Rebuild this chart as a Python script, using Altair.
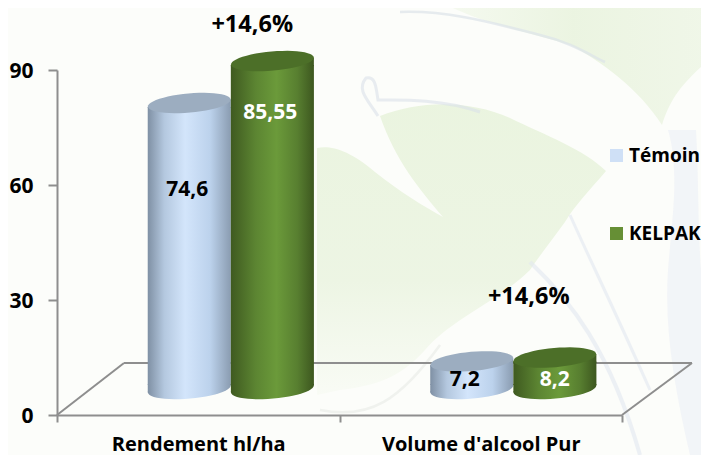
import math
import altair as alt
import pandas as pd

categories = ["Rendement hl/ha", "Volume d'alcool Pur"]
series_names = ["Témoin", "KELPAK"]
temoin_values = [74.6, 7.2]
kelpak_values = [85.55, 8.2]
temoin_labels = ["74,6", "7,2"]
kelpak_labels = ["85,55", "8,2"]
temoin_label_heights = [52.0, 2.4]
kelpak_label_heights = [72.0, 2.4]
temoin_label_dx = [-2, -7]
kelpak_label_dx = [-2, 0]
gain_labels = ["+14,6%", "+14,6%"]
gain_heights = [95.0, 24.0]
gain_dx = [54, 48]
y_ticks = [0, 30, 60, 90]

FONT = "Open Sans"
AXIS = "#8e8e8e"
DEPTH = 26
BAR_W = 83
TILT = math.radians(-5)
RY = 9.6 / (BAR_W / 2)
TIP = math.sin(-TILT)
SEAM = 0.035


def ellipse_pts(n=48):
    pts = []
    for i in range(n):
        a = math.pi + 2 * math.pi * i / n
        ex, ey = math.cos(a), RY * math.sin(a)
        pts.append((ex * math.cos(TILT) - ey * math.sin(TILT),
                    ex * math.sin(TILT) + ey * math.cos(TILT)))
    return pts


def to_path(pts):
    return "M" + "L".join(f"{x:.4f},{y:.4f}" for x, y in pts) + "Z"


ELLIPSE = to_path(ellipse_pts())
TOP_NECK = to_path([(-1, TIP), (1, -TIP), (1, TIP + SEAM), (-1, TIP + SEAM)])
BOTTOM_NECK = to_path([(-1, -TIP - SEAM), (1, -TIP - SEAM), (1, -TIP), (-1, TIP)])
SIZE = BAR_W ** 2

BLUE_BODY = alt.Gradient(gradient="linear", x1=0, x2=1, y1=0, y2=0, stops=[
    alt.GradientStop(color="#7f90a4", offset=0),
    alt.GradientStop(color="#b4c8df", offset=0.2),
    alt.GradientStop(color="#d3e5fb", offset=0.45),
    alt.GradientStop(color="#bcd2ec", offset=0.75),
    alt.GradientStop(color="#8a9cb1", offset=1)])
GREEN_BODY = alt.Gradient(gradient="linear", x1=0, x2=1, y1=0, y2=0, stops=[
    alt.GradientStop(color="#3f5a20", offset=0),
    alt.GradientStop(color="#5c8532", offset=0.3),
    alt.GradientStop(color="#6b9a3a", offset=0.55),
    alt.GradientStop(color="#587f30", offset=0.8),
    alt.GradientStop(color="#3d571f", offset=1)])
BLUE_TOP = "#9cadc0"
GREEN_TOP = "#4c6f28"
LEAF_FADE = alt.Gradient(gradient="linear", x1=0, x2=0, y1=0, y2=1, stops=[
    alt.GradientStop(color="#e6f2d9", offset=0),
    alt.GradientStop(color="#e9f3de", offset=0.6),
    alt.GradientStop(color="#f8fbf4", offset=1)])
TOP_FADE = alt.Gradient(gradient="linear", x1=0, x2=1, y1=0, y2=0, stops=[
    alt.GradientStop(color="#f4f9ee", offset=0),
    alt.GradientStop(color="#e7f2db", offset=0.5),
    alt.GradientStop(color="#edf5e4", offset=1)])

rows = []
for i, c in enumerate(categories):
    rows.append(dict(cat=c, series=series_names[0], value=temoin_values[i]))
    rows.append(dict(cat=c, series=series_names[1], value=kelpak_values[i]))
df = pd.DataFrame(rows)

x_enc = alt.X("cat:N", sort=categories, title=None,
              scale=alt.Scale(domain=categories, paddingInner=0, paddingOuter=0),
              axis=alt.Axis(tickBand="extent", labelAngle=0, tickSize=7, tickWidth=2,
                            tickColor=AXIS, domainColor=AXIS, domainWidth=2, labelPadding=12,
                            labelFont=FONT, labelFontWeight="bold", labelFontSize=20,
                            labelLimit=400, labelColor="#000000", grid=False, title=None))
x_off = alt.XOffset("series:N", sort=series_names,
                    scale=alt.Scale(domain=series_names, paddingInner=0, paddingOuter=0.7, align=0.78))
y_enc = alt.Y("value:Q", title=None,
              scale=alt.Scale(domain=[0, 90], nice=False, clamp=False),
              axis=alt.Axis(values=y_ticks, tickSize=9, tickWidth=2, tickColor=AXIS,
                            domainColor=AXIS, domainWidth=2, labelPadding=15, labelFont=FONT,
                            labelOffset=1, labelFontWeight="bold", labelFontSize=21,
                            labelColor="#000000", grid=False, title=None))
one = alt.Data(values=[{"a": 1}])


def deco(path, fill=None, stroke=None, opacity=1.0, width=1.0):
    """Backdrop picture: a path given in page pixels (size 4 = scale 1)."""
    kw = dict(shape=path, size=4, opacity=opacity)
    if fill:
        kw.update(filled=True, fill=fill, strokeWidth=0)
    else:
        kw.update(filled=False, stroke=stroke, strokeWidth=width, fillOpacity=0)
    return alt.Chart(one).mark_point(**kw).encode(x=alt.value(-57), y=alt.value(-70))


LEAF_MAIN = ("M380,116 C420,100 470,100 510,118 C545,135 585,150 606,171 C590,190 575,205 565,222 "
             "C552,240 540,255 530,270 C500,300 450,320 425,350 C405,372 385,385 340,390 L317,395 "
             "L317,148 C330,145 350,150 375,172 C400,192 425,207 443,217 C420,190 395,160 380,116Z")
LEAF_TOP = ("M438,0 C470,20 520,30 570,45 C600,60 640,90 662,125 C670,100 680,85 709,60 L709,0Z")
WATER_RIGHT = ("M668,130 C680,170 672,220 668,270 C664,330 675,390 690,455 L709,455 L709,330 "
               "C696,270 700,200 696,130Z")
SWEEP = "M530,262 C570,300 610,350 640,455"
SWEEP2 = "M570,215 C590,260 610,300 650,390"
SPLASH = "M378,116 C368,100 356,90 366,78 C376,76 376,88 378,100 C395,100 440,98 480,112"
TOP_CURVE = "M400,12 C450,10 500,25 540,35 C570,42 590,55 605,62"
BOTTOM_CURVE = "M320,410 C370,420 400,400 440,345"

bg = [
    deco(LEAF_MAIN, fill=LEAF_FADE, opacity=0.8),
    deco(LEAF_TOP, fill=TOP_FADE, opacity=0.8),
    deco(WATER_RIGHT, fill="#eef1f7", opacity=0.7),
    deco(SWEEP, stroke="#e3e8f1", width=4, opacity=0.6),
    deco(SWEEP2, stroke="#e3e8f1", width=3, opacity=0.6),
    deco(SPLASH, stroke="#dbe2ea", width=3, opacity=0.6),
    deco(TOP_CURVE, stroke="#dde4ea", width=2.5, opacity=0.7),
    deco(BOTTOM_CURVE, stroke="#ebeeea", width=2.5, opacity=0.7),
]

rule = alt.Chart(one).mark_rule(color=AXIS, strokeWidth=2)
floor = [
    rule.encode(x=alt.value(0), x2=alt.value(67), y=alt.value(345), y2=alt.value(293)),
    rule.encode(x=alt.value(67), x2=alt.value(635), y=alt.value(293), y2=alt.value(293)),
    rule.encode(x=alt.value(565), x2=alt.value(635), y=alt.value(345), y2=alt.value(293)),
]

base = alt.Chart(df)
axes_layer = base.mark_square(opacity=0, size=1).encode(
    x=x_enc, xOffset=x_off, y=y_enc,
    color=alt.Color("series:N", sort=series_names,
                    scale=alt.Scale(domain=series_names, range=["#cfe0f6", "#668f35"]),
                    legend=alt.Legend(title=None, orient="none", legendX=550, legendY=76,
                                      symbolType="square", symbolSize=169, symbolOpacity=1,
                                      symbolStrokeWidth=0, labelFont=FONT, labelFontWeight="bold",
                                      labelFontSize=19, labelColor="#000000", labelOffset=3,
                                      rowPadding=58, labelLimit=120, padding=0)))


def cylinder(name, body, top):
    d = base.transform_filter(alt.datum.series == name)
    enc = dict(x=alt.X("cat:N", sort=categories), xOffset=alt.XOffset("series:N", sort=series_names),
               y=alt.Y("value:Q"))
    neck = 4
    bar = d.mark_bar(fill=body, yOffset=-DEPTH + neck, y2Offset=-DEPTH - neck,
                     cornerRadius=0).encode(y2=alt.datum(0), **enc)
    bottom_enc = dict(x=enc["x"], xOffset=enc["xOffset"], y=alt.datum(0))

    def sym(path, fill, e):
        return d.mark_point(shape=path, size=SIZE, filled=True, fill=fill, opacity=1, strokeWidth=0,
                            yOffset=-DEPTH).encode(**e)

    return [bar,
            sym(BOTTOM_NECK, body, bottom_enc),
            sym(ELLIPSE, body, bottom_enc),
            sym(TOP_NECK, body, enc),
            sym(ELLIPSE, top, enc)]


def text_layer(cat, series, height, label, color, dx, size):
    d = alt.Data(values=[{"cat": cat, "series": series, "h": height, "t": label}])
    return alt.Chart(d).mark_text(font=FONT, fontWeight="bold", fontSize=size, color=color, dx=dx,
                                  yOffset=-DEPTH, align="center", baseline="middle").encode(
        x=alt.X("cat:N", sort=categories),
        xOffset=alt.XOffset("series:N", sort=series_names),
        y=alt.Y("h:Q"), text="t:N")


labels = []
for i, c in enumerate(categories):
    labels.append(text_layer(c, "Témoin", temoin_label_heights[i], temoin_labels[i], "#000000",
                             temoin_label_dx[i], 21))
    labels.append(text_layer(c, "KELPAK", kelpak_label_heights[i], kelpak_labels[i], "#ffffff",
                             kelpak_label_dx[i], 21))

gains = []
for i, c in enumerate(categories):
    d = alt.Data(values=[{"cat": c, "h": gain_heights[i], "t": gain_labels[i]}])
    gains.append(alt.Chart(d).mark_text(font=FONT, fontWeight="bold", fontSize=23.5, color="#000000",
                                        dx=gain_dx[i], yOffset=-DEPTH).encode(
        x=alt.X("cat:N", sort=categories), y=alt.Y("h:Q"), text="t:N"))

chart = alt.layer(
    *bg, axes_layer, *floor,
    *cylinder("Témoin", BLUE_BODY, BLUE_TOP),
    *cylinder("KELPAK", GREEN_BODY, GREEN_TOP),
    *labels, *gains,
).properties(
    width=565, height=345, background="#fcfdfa",
    padding={"left": 49, "top": 62, "right": 79, "bottom": 40},
    autosize=alt.AutoSizeParams(type="none"),
).configure_view(stroke=None)

chart.save("out.html", embed_options={"renderer": "svg", "actions": False})
